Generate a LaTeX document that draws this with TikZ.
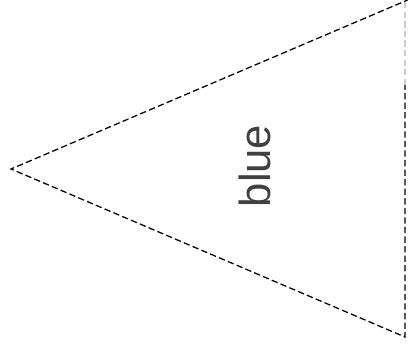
\documentclass[tikz,border=0pt]{standalone}
\usepackage{fontspec}
\setmainfont{Liberation Sans}
\usetikzlibrary{positioning, calc}

\begin{document}
\begin{tikzpicture}[
      x=0.025cm, y=-0.025cm,
      flagedge/.style={draw=black, line width=0.9pt, dash pattern=on 4.5pt off 2.3pt},
      flaglabel/.style={font=\fontsize{31}{31}\selectfont, text=black!75, rotate=90},
    ]
    \useasboundingbox (0,0) rectangle (408,346);
    \coordinate (tip) at (11,169);
    \coordinate (top) at (410,-1);
    \coordinate (bot) at (405,337);
    \coordinate (mid) at (405,85);
    \draw[flagedge] (top) -- (tip) -- (bot) -- (mid);
    \draw[flagedge, draw=black!20] (mid) -- (405,0);
    \node[flaglabel] (lbl) at (255,166) {blue};
  \end{tikzpicture}
\end{document}
